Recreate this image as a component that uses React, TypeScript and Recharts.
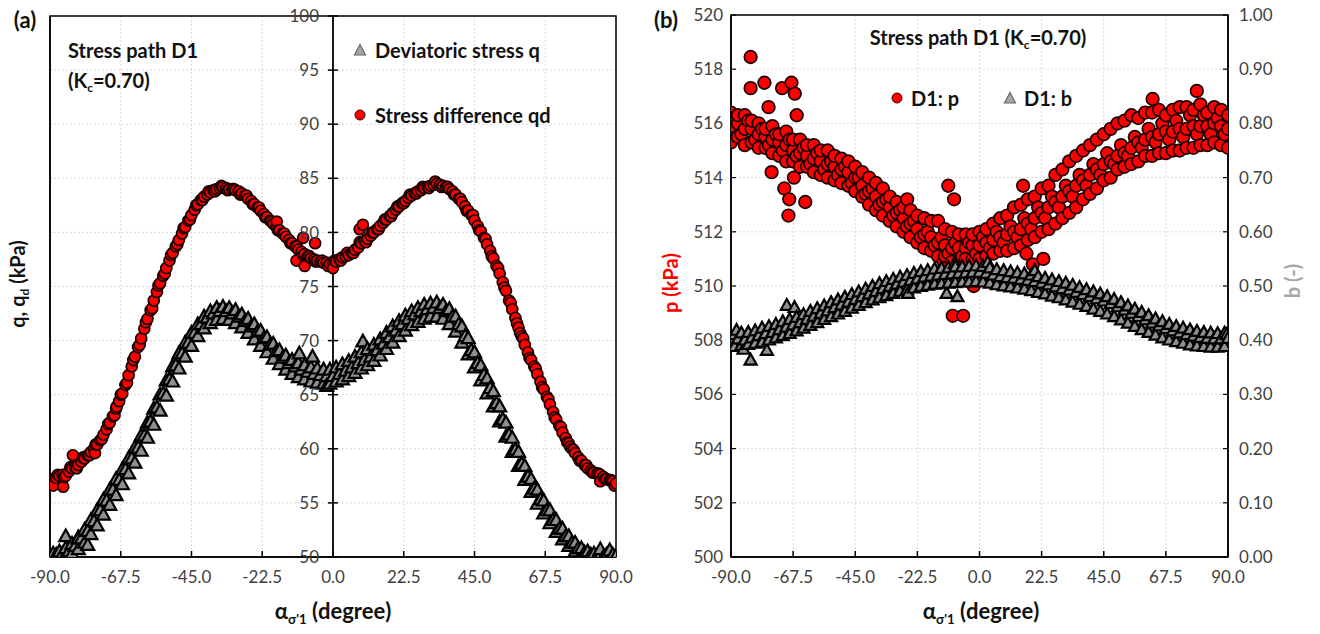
import React from 'react'
import { ScatterChart, Scatter, XAxis, YAxis, CartesianGrid, ReferenceLine, ReferenceArea } from 'recharts'

type Pt = [number, number]

const xTicks = [-90, -67.5, -45, -22.5, 0, 22.5, 45, 67.5, 90]
const qTicks = [50, 55, 60, 65, 70, 75, 80, 85, 90, 95, 100]
const pTicks = [500, 502, 504, 506, 508, 510, 512, 514, 516, 518, 520]
const bTicks = [0, 0.1, 0.2, 0.3, 0.4, 0.5, 0.6, 0.7, 0.8, 0.9, 1]

// panel (a): deviatoric stress q (triangles) - band centre, lower edge, upper edge
const qCentre: Pt[] = [[-90,50.2],[-88,50.3],[-86,50.4],[-84,50.6],[-82,51.1],[-80,51.8],[-78,52.5],[-76,53.4],[-74,54.4],[-72,55.3],[-70,56.3],[-68,57.2],[-66,58.2],[-64,59.2],[-62,60.2],[-60,61.3],[-58,62.6],[-56,63.9],[-54,65.2],[-52,66.5],[-50,67.8],[-48,68.9],[-46,69.9],[-44,70.8],[-42,71.6],[-40,72.2],[-38,72.6],[-36,72.8],[-34,72.8],[-32,72.6],[-30,72.3],[-28,71.9],[-26,71.4],[-24,70.9],[-22,70.3],[-20,69.7],[-18,69.1],[-16,68.5],[-14,68.0],[-12,67.7],[-10,67.4],[-8,67.2],[-6,67.0],[-4,66.9],[-2,66.8],[0,66.8],[2,67.0],[4,67.3],[6,67.6],[8,68.0],[10,68.3],[12,68.6],[14,69.2],[16,69.8],[18,70.4],[20,71.0],[22,71.6],[24,72.1],[26,72.5],[28,72.8],[30,73.0],[32,73.1],[34,73.1],[36,72.8],[38,72.3],[40,71.6],[42,70.5],[44,69.2],[46,68.0],[48,66.9],[50,65.7],[52,64.3],[54,62.8],[56,61.4],[58,60.0],[60,58.7],[62,57.5],[64,56.4],[66,55.4],[68,54.4],[70,53.5],[72,52.7],[74,52.0],[76,51.4],[78,50.9],[80,50.5],[82,50.3],[84,50.2],[86,50.1],[88,50.1],[90,50.2]]
const qEdge: Pt[] = [[-89,50.0],[-87,50.1],[-85,50.3],[-83,50.4],[-81,50.8],[-79,51.4],[-77,52.2],[-75,53.0],[-73,54.0],[-71,54.9],[-69,55.8],[-67,56.8],[-65,57.8],[-63,58.8],[-61,59.9],[-59,61.1],[-57,62.3],[-55,63.6],[-53,65.0],[-51,66.3],[-49,67.5],[-47,68.6],[-45,69.6],[-43,70.5],[-41,71.2],[-39,71.7],[-37,72.0],[-35,72.1],[-33,72.0],[-31,71.7],[-29,71.3],[-27,70.8],[-25,70.2],[-23,69.6],[-21,69.0],[-19,68.4],[-17,67.9],[-15,67.4],[-13,67.0],[-11,66.7],[-9,66.5],[-7,66.3],[-5,66.2],[-3,66.1],[-1,66.1],[1,66.3],[3,66.5],[5,66.8],[7,67.1],[9,67.5],[11,67.8],[13,68.2],[15,68.7],[17,69.3],[19,69.9],[21,70.5],[23,71.0],[25,71.5],[27,71.8],[29,72.1],[31,72.3],[33,72.3],[35,72.1],[37,71.6],[39,70.9],[41,69.9],[43,68.8],[45,67.6],[47,66.4],[49,65.2],[51,64.0],[53,62.6],[55,61.2],[57,59.8],[59,58.5],[61,57.2],[63,56.1],[65,55.0],[67,54.1],[69,53.2],[71,52.4],[73,51.7],[75,51.1],[77,50.6],[79,50.3],[81,50.1],[83,50.0],[85,50.0],[87,50.0],[89,50.0]]
const qTop: Pt[] = [[-89,50.4],[-87,50.6],[-85,50.9],[-83,51.3],[-81,51.9],[-79,52.6],[-77,53.5],[-75,54.4],[-73,55.4],[-71,56.3],[-69,57.3],[-67,58.2],[-65,59.2],[-63,60.2],[-61,61.3],[-59,62.5],[-57,63.8],[-55,65.1],[-53,66.4],[-51,67.7],[-49,68.9],[-47,69.9],[-45,70.8],[-43,71.6],[-41,72.3],[-39,72.8],[-37,73.1],[-35,73.2],[-33,73.1],[-31,72.9],[-29,72.5],[-27,72.1],[-25,71.6],[-23,71.0],[-21,70.4],[-19,69.8],[-17,69.2],[-15,68.7],[-13,68.3],[-11,68.0],[-9,67.8],[-7,67.6],[-5,67.5],[-3,67.4],[-1,67.4],[1,67.6],[3,67.9],[5,68.2],[7,68.6],[9,69.0],[11,69.3],[13,69.7],[15,70.2],[17,70.8],[19,71.4],[21,71.9],[23,72.4],[25,72.8],[27,73.1],[29,73.4],[31,73.5],[33,73.6],[35,73.4],[37,73.0],[39,72.3],[41,71.4],[43,70.3],[45,69.0],[47,67.8],[49,66.6],[51,65.4],[53,64.0],[55,62.5],[57,61.1],[59,59.8],[61,58.5],[63,57.3],[65,56.3],[67,55.3],[69,54.4],[71,53.5],[73,52.7],[75,52.0],[77,51.4],[79,50.9],[81,50.6],[83,50.4],[85,50.3],[87,50.3],[89,50.3]]
const qStray: Pt[] = [[-85,52.0],[-81,51.8],[-78,51.2],[-10.7,68.9],[-6.5,68.6],[9.5,70.0],[-2,65.9],[85,50.8],[88,50.7]]

// panel (a): stress difference qd (circles)
const qdEven: Pt[] = [[-90,57.0],[-88,57.3],[-86,57.6],[-84,57.9],[-82,58.3],[-80,58.8],[-78,59.4],[-76,60.0],[-74,60.8],[-72,61.8],[-70,63.0],[-68,64.4],[-66,65.9],[-64,67.6],[-62,69.4],[-60,71.1],[-58,72.8],[-56,74.5],[-54,76.0],[-52,77.4],[-50,78.7],[-48,79.9],[-46,81.1],[-44,82.1],[-42,83.0],[-40,83.5],[-38,83.9],[-36,84.1],[-34,84.1],[-32,84.0],[-30,83.8],[-28,83.4],[-26,82.9],[-24,82.3],[-22,81.7],[-20,81.1],[-18,80.5],[-16,79.9],[-14,79.3],[-12,78.7],[-10,78.2],[-8,77.8],[-6,77.5],[-4,77.3],[-2,77.2],[0,77.2],[2,77.5],[4,77.8],[6,78.1],[8,78.6],[10,79.2],[12,79.7],[14,80.3],[16,80.9],[18,81.5],[20,82.1],[22,82.7],[24,83.2],[26,83.6],[28,83.9],[30,84.2],[32,84.4],[34,84.4],[36,84.2],[38,83.8],[40,83.1],[42,82.4],[44,81.6],[46,80.6],[48,79.5],[50,78.3],[52,76.9],[54,75.4],[56,73.7],[58,72.1],[60,70.4],[62,68.9],[64,67.6],[66,66.2],[68,64.8],[70,63.4],[72,62.1],[74,61.0],[76,60.0],[78,59.2],[80,58.5],[82,58.0],[84,57.7],[86,57.4],[88,57.1],[90,56.8]]
const qdOdd: Pt[] = [[-89,56.6],[-87,57.5],[-85,57.5],[-83,58.2],[-81,58.5],[-79,59.1],[-77,59.7],[-75,60.4],[-73,61.3],[-71,62.4],[-69,63.7],[-67,65.1],[-65,66.8],[-63,68.5],[-61,70.2],[-59,72.0],[-57,73.7],[-55,75.3],[-53,76.7],[-51,78.1],[-49,79.3],[-47,80.5],[-45,81.6],[-43,82.6],[-41,83.3],[-39,83.7],[-37,84.0],[-35,84.2],[-33,84.0],[-31,83.9],[-29,83.6],[-27,83.1],[-25,82.6],[-23,82.0],[-21,81.4],[-19,80.8],[-17,80.2],[-15,79.6],[-13,79.0],[-11,78.4],[-9,78.0],[-7,77.6],[-5,77.4],[-3,77.2],[-1,77.1],[1,77.3],[3,77.7],[5,77.9],[7,78.4],[9,79.0],[11,79.4],[13,80.0],[15,80.6],[17,81.2],[19,81.8],[21,82.4],[23,82.9],[25,83.4],[27,83.8],[29,84.1],[31,84.3],[33,84.5],[35,84.3],[37,84.0],[39,83.5],[41,82.8],[43,82.0],[45,81.1],[47,80.1],[49,78.9],[51,77.6],[53,76.2],[55,74.6],[57,72.9],[59,71.2],[61,69.6],[63,68.2],[65,66.9],[67,65.5],[69,64.1],[71,62.7],[73,61.5],[75,60.5],[77,59.6],[79,58.9],[81,58.2],[83,57.8],[85,57.6],[87,57.2],[89,57.0]]
const qdHalf: Pt[] = [[-89.5,57.2],[-87.5,57.6],[-85.5,57.4],[-83.5,58.3],[-81.5,58.2],[-79.5,59.2],[-77.5,59.4],[-75.5,60.4],[-73.5,60.9],[-71.5,62.3],[-69.5,63.1],[-67.5,65.0],[-65.5,66.1],[-63.5,68.2],[-61.5,69.6],[-59.5,71.7],[-57.5,73.0],[-55.5,75.1],[-53.5,76.2],[-51.5,77.9],[-49.5,78.9],[-47.5,80.4],[-45.5,81.2],[-43.5,82.5],[-41.5,83.0],[-39.5,83.8],[-37.5,83.8],[-35.5,84.3],[-33.5,83.9],[-31.5,84.0],[-29.5,83.5],[-27.5,83.4],[-25.5,82.6],[-23.5,82.3],[-21.5,81.4],[-19.5,81.0],[-17.5,80.2],[-15.5,79.9],[-13.5,79.0],[-11.5,78.7],[-9.5,77.9],[-7.5,77.8],[-5.5,77.3],[-3.5,77.4],[-1.5,76.9],[0.5,77.4],[2.5,77.4],[4.5,78.1],[6.5,78.1],[8.5,79.1],[10.5,79.1],[12.5,80.0],[14.5,80.3],[16.5,81.2],[18.5,81.5],[20.5,82.4],[22.5,82.7],[24.5,83.5],[26.5,83.6],[28.5,84.2],[30.5,84.1],[32.5,84.7],[34.5,84.2],[36.5,84.2],[38.5,83.5],[40.5,83.1],[42.5,82.0],[44.5,81.6],[46.5,80.2],[48.5,79.4],[50.5,77.8],[52.5,76.7],[54.5,74.9],[56.5,73.5],[58.5,71.6],[60.5,70.2],[62.5,68.4],[64.5,67.4],[66.5,65.7],[68.5,64.6],[70.5,62.9],[72.5,62.0],[74.5,60.6],[76.5,59.9],[78.5,58.9],[80.5,58.5],[82.5,57.8],[84.5,57.7],[86.5,57.2],[88.5,57.1]]
const qdStray: Pt[] = [[-85.8,56.5],[-82.7,59.4],[-75.7,59.6],[-68.8,63.9],[-17.9,81.0],[-9.5,79.5],[-5.7,79.0],[-11.6,77.4],[-9,76.9],[0,76.7],[9.5,80.7],[8.5,80.3],[59.5,70.7],[75.4,60.2],[89.5,56.6],[85,57.0]]

// panel (b): mean stress p (circles)
const pMain: Pt[] = [[-90,515.9],[-87.5,516.0],[-85,515.8],[-82.5,515.8],[-80,515.6],[-77.5,515.5],[-75,515.4],[-72.5,515.3],[-70,515.2],[-67.5,515.0],[-65,514.9],[-62.5,514.8],[-60,514.7],[-57.5,514.6],[-55,514.5],[-52.5,514.4],[-50,514.3],[-47.5,514.2],[-45,514.0],[-42.5,513.7],[-40,513.5],[-37.5,513.3],[-35,513.1],[-32.5,512.9],[-30,512.7],[-27.5,512.5],[-25,512.3],[-22.5,512.1],[-20,511.9],[-17.5,511.8],[-15,511.6],[-12.5,511.5],[-10,511.4],[-7.5,511.4],[-5,511.4],[-2.5,511.5],[0,511.5],[2.5,511.6],[5,511.7],[7.5,511.8],[10,511.9],[12.5,512.0],[15,512.1],[17.5,512.3],[20,512.5],[22.5,512.7],[25,512.9],[27.5,513.1],[30,513.3],[32.5,513.5],[35,513.7],[37.5,513.9],[40,514.1],[42.5,514.3],[45,514.5],[47.5,514.6],[50,514.8],[52.5,514.9],[55,515.1],[57.5,515.3],[60,515.4],[62.5,515.5],[65,515.6],[67.5,515.7],[70,515.7],[72.5,515.8],[75,515.8],[77.5,515.9],[80,515.9],[82.5,515.9],[85,516.0],[87.5,515.9],[90,515.8]]
const pMid: Pt[] = [[-88.75,516.2],[-86.25,515.6],[-83.75,516.1],[-81.25,515.4],[-78.75,515.8],[-76.25,515.2],[-73.75,515.6],[-71.25,515.0],[-68.75,515.4],[-66.25,514.8],[-63.75,515.1],[-61.25,514.5],[-58.75,514.9],[-56.25,514.3],[-53.75,514.6],[-51.25,514.1],[-48.75,514.4],[-46.25,513.8],[-43.75,514.0],[-41.25,513.4],[-38.75,513.6],[-36.25,513.0],[-33.75,513.2],[-31.25,512.6],[-28.75,512.8],[-26.25,512.2],[-23.75,512.4],[-21.25,511.8],[-18.75,512.0],[-16.25,511.5],[-13.75,511.8],[-11.25,511.2],[-8.75,511.6],[-6.25,511.1],[-3.75,511.6],[-1.25,511.2],[1.25,511.8],[3.75,511.4],[6.25,512.0],[8.75,511.6],[11.25,512.2],[13.75,511.8],[16.25,512.5],[18.75,512.1],[21.25,512.9],[23.75,512.5],[26.25,513.3],[28.75,512.9],[31.25,513.7],[33.75,513.3],[36.25,514.1],[38.75,513.7],[41.25,514.5],[43.75,514.1],[46.25,514.9],[48.75,514.5],[51.25,515.2],[53.75,514.8],[56.25,515.5],[58.75,515.1],[61.25,515.8],[63.75,515.3],[66.25,516.0],[68.75,515.4],[71.25,516.1],[73.75,515.5],[76.25,516.3],[78.75,515.6],[81.25,516.3],[83.75,515.6],[86.25,516.2],[88.75,515.6]]
const pUpper: Pt[] = [[-90,516.4],[-85,516.3],[-80,516.0],[-75,515.9],[-70,515.7],[-65,515.4],[-60,515.2],[-55,515.0],[-50,514.7],[-45,514.4],[-40,514.0],[-35,513.6],[-30,513.1],[-25,512.8],[-20,512.5],[-15,512.4],[-10,512.0],[-5,511.9],[0,512.0],[5,512.3],[10,512.6],[15,513.0],[20,513.3],[25,513.7],[30,514.3],[35,514.8],[40,515.2],[45,515.6],[50,516.0],[55,516.3],[60,516.4],[65,516.5],[70,516.5],[75,516.6],[80,516.7],[85,516.6],[90,516.3]]
const pUpper2: Pt[] = [[-87.5,516.3],[-82.5,516.1],[-77.5,515.8],[-72.5,515.6],[-67.5,515.4],[-62.5,515.2],[-57.5,515.0],[-52.5,514.8],[-47.5,514.6],[-42.5,514.2],[-37.5,513.8],[-32.5,513.3],[-27.5,512.9],[-22.5,512.6],[-17.5,512.4],[-12.5,512.1],[-7.5,511.9],[-2.5,511.9],[2.5,512.1],[7.5,512.5],[12.5,512.9],[17.5,513.2],[22.5,513.6],[27.5,514.1],[32.5,514.6],[37.5,515.0],[42.5,515.4],[47.5,515.8],[52.5,516.1],[57.5,516.2],[62.5,516.4],[67.5,516.3],[72.5,516.6],[77.5,516.5],[82.5,516.4],[87.5,516.5]]
const pLower: Pt[] = [[-90,515.3],[-85,515.2],[-80,515.1],[-75,514.9],[-70,514.6],[-65,514.4],[-60,514.2],[-55,514.0],[-50,513.8],[-45,513.5],[-40,513.0],[-35,512.6],[-30,512.2],[-25,511.8],[-20,511.4],[-15,511.1],[-10,510.9],[-5,511.0],[0,511.0],[5,511.2],[10,511.3],[15,511.5],[20,511.8],[25,512.1],[30,512.5],[35,512.9],[40,513.4],[45,513.9],[50,514.3],[55,514.5],[60,514.8],[65,514.9],[70,515.0],[75,515.1],[80,515.2],[85,515.3],[90,515.1]]
const pLower2: Pt[] = [[-87.5,515.5],[-82.5,515.3],[-77.5,515.1],[-72.5,514.8],[-67.5,514.6],[-62.5,514.4],[-57.5,514.1],[-52.5,513.9],[-47.5,513.7],[-42.5,513.3],[-37.5,512.8],[-32.5,512.4],[-27.5,512.0],[-22.5,511.6],[-17.5,511.3],[-12.5,511.1],[-7.5,510.9],[-2.5,511.0],[2.5,511.1],[7.5,511.3],[12.5,511.4],[17.5,511.7],[22.5,512.0],[27.5,512.3],[32.5,512.7],[37.5,513.2],[42.5,513.6],[47.5,514.0],[52.5,514.4],[57.5,514.6],[62.5,514.8],[67.5,514.9],[72.5,515.0],[77.5,515.1],[82.5,515.2],[87.5,515.2]]
const pStray: Pt[] = [[-82.9,518.45],[-82.9,517.3],[-77.9,517.5],[-76.4,516.6],[-71.5,517.3],[-68.1,517.5],[-66.9,517.1],[-66.2,516.3],[-75.3,514.2],[-70.7,513.6],[-68.9,513.2],[-63.1,513.1],[-69.2,512.6],[-67.2,514.0],[-11.3,513.7],[-9.2,513.2],[-26.2,513.2],[15.8,513.7],[19.3,510.8],[23.1,511.0],[-2.1,510.0],[-9.7,508.9],[-5.9,508.9],[17,511.2],[-13,510.9],[78.7,517.2],[62.7,516.9]]

// panel (b): intermediate stress ratio b (triangles)
const bMain: Pt[] = [[-90,0.400],[-87.5,0.404],[-85,0.402],[-82.5,0.406],[-80,0.410],[-77.5,0.414],[-75,0.416],[-72.5,0.421],[-70,0.426],[-67.5,0.430],[-65,0.434],[-62.5,0.440],[-60,0.446],[-57.5,0.451],[-55,0.456],[-52.5,0.462],[-50,0.467],[-47.5,0.472],[-45,0.477],[-42.5,0.482],[-40,0.487],[-37.5,0.492],[-35,0.497],[-32.5,0.501],[-30,0.505],[-27.5,0.509],[-25,0.512],[-22.5,0.515],[-20,0.518],[-17.5,0.520],[-15,0.522],[-12.5,0.523],[-10,0.524],[-7.5,0.525],[-5,0.526],[-2.5,0.527],[0,0.527],[2.5,0.525],[5,0.522],[7.5,0.519],[10,0.517],[12.5,0.516],[15,0.514],[17.5,0.512],[20,0.510],[22.5,0.507],[25,0.504],[27.5,0.500],[30,0.497],[32.5,0.494],[35,0.490],[37.5,0.486],[40,0.482],[42.5,0.478],[45,0.474],[47.5,0.469],[50,0.463],[52.5,0.457],[55,0.451],[57.5,0.445],[60,0.439],[62.5,0.433],[65,0.428],[67.5,0.423],[70,0.419],[72.5,0.415],[75,0.412],[77.5,0.409],[80,0.407],[82.5,0.405],[85,0.404],[87.5,0.404],[90,0.405]]
const bLow: Pt[] = [[-88.75,0.390],[-86.25,0.392],[-83.75,0.394],[-81.25,0.396],[-78.75,0.398],[-76.25,0.402],[-73.75,0.406],[-71.25,0.410],[-68.75,0.414],[-66.25,0.419],[-63.75,0.424],[-61.25,0.429],[-58.75,0.434],[-56.25,0.440],[-53.75,0.445],[-51.25,0.450],[-48.75,0.455],[-46.25,0.461],[-43.75,0.466],[-41.25,0.471],[-38.75,0.476],[-36.25,0.480],[-33.75,0.484],[-31.25,0.488],[-28.75,0.492],[-26.25,0.495],[-23.75,0.498],[-21.25,0.501],[-18.75,0.503],[-16.25,0.505],[-13.75,0.506],[-11.25,0.507],[-8.75,0.508],[-6.25,0.509],[-3.75,0.509],[-1.25,0.510],[1.25,0.509],[3.75,0.507],[6.25,0.504],[8.75,0.502],[11.25,0.500],[13.75,0.498],[16.25,0.496],[18.75,0.493],[21.25,0.490],[23.75,0.487],[26.25,0.483],[28.75,0.480],[31.25,0.476],[33.75,0.472],[36.25,0.468],[38.75,0.464],[41.25,0.459],[43.75,0.455],[46.25,0.450],[48.75,0.445],[51.25,0.439],[53.75,0.433],[56.25,0.427],[58.75,0.421],[61.25,0.416],[63.75,0.411],[66.25,0.406],[68.75,0.402],[71.25,0.399],[73.75,0.396],[76.25,0.393],[78.75,0.391],[81.25,0.390],[83.75,0.389],[86.25,0.389],[88.75,0.390]]
const bHigh: Pt[] = [[-88.75,0.412],[-86.25,0.415],[-83.75,0.416],[-81.25,0.419],[-78.75,0.424],[-76.25,0.427],[-73.75,0.431],[-71.25,0.436],[-68.75,0.440],[-66.25,0.444],[-63.75,0.449],[-61.25,0.455],[-58.75,0.460],[-56.25,0.465],[-53.75,0.471],[-51.25,0.476],[-48.75,0.481],[-46.25,0.486],[-43.75,0.491],[-41.25,0.496],[-38.75,0.501],[-36.25,0.506],[-33.75,0.510],[-31.25,0.514],[-28.75,0.518],[-26.25,0.521],[-23.75,0.525],[-21.25,0.528],[-18.75,0.530],[-16.25,0.533],[-13.75,0.534],[-11.25,0.535],[-8.75,0.537],[-6.25,0.537],[-3.75,0.538],[-1.25,0.539],[1.25,0.538],[3.75,0.535],[6.25,0.532],[8.75,0.530],[11.25,0.528],[13.75,0.526],[16.25,0.524],[18.75,0.522],[21.25,0.519],[23.75,0.516],[26.25,0.513],[28.75,0.510],[31.25,0.507],[33.75,0.503],[36.25,0.499],[38.75,0.495],[41.25,0.491],[43.75,0.487],[46.25,0.482],[48.75,0.477],[51.25,0.471],[53.75,0.465],[56.25,0.459],[58.75,0.453],[61.25,0.447],[63.75,0.441],[66.25,0.436],[68.75,0.431],[71.25,0.427],[73.75,0.424],[76.25,0.421],[78.75,0.418],[81.25,0.416],[83.75,0.415],[86.25,0.414],[88.75,0.415]]
const bStray: Pt[] = [[-82.9,0.365],[-85.5,0.385],[-77,0.383],[-69.8,0.466],[-67,0.462],[-88,0.42],[-9,0.543],[-11.9,0.488],[-8,0.482],[-25.9,0.488],[3,0.545],[20,0.53],[89.5,0.412]]

// merge lists and draw them left to right, as the logger recorded them
const rows = (...lists: Pt[][]) =>
  lists
    .flat()
    .map(([x, y]) => ({ x, y }))
    .sort((a, b) => a.x - b.x)

const FONT = "Lato, 'Open Sans', sans-serif"
const TICK_COLOR = '#404040'
const A_MID = 333 // x pixel of alpha = 0 in panel (a)

const redDot = (r: number) => (props: any) => (
  <circle cx={props.cx} cy={props.cy} r={r} fill="#ff0000" stroke="#1a0000" strokeWidth={1.7} />
)

const grayTri = (w: number) => (props: any) => {
  const { cx, cy } = props
  const h = w * 0.9
  return (
    <polygon
      points={`${cx},${cy - h / 2} ${cx - w / 2},${cy + h / 2} ${cx + w / 2},${cy + h / 2}`}
      fill="#8f8f8f"
      stroke="#000"
      strokeWidth={2.2}
    />
  )
}

// y ticks of panel (a) sit on the vertical axis at alpha = 0
const CentreTick = (props: any) => {
  const { y, payload } = props
  return (
    <g>
      <line x1={A_MID - 5} x2={A_MID + 5} y1={y} y2={y} stroke="#000" strokeWidth={1.5} />
      <text x={A_MID - 14} y={y} dy="0.36em" textAnchor="end" fill={TICK_COLOR} fontSize={17} fontFamily={FONT}>
        {payload.value}
      </text>
    </g>
  )
}

const tickStyle = { fill: TICK_COLOR, fontSize: 17, fontFamily: FONT }

function Txt({ x, y, size = 20, color = '#111', rotate = false, center = true, children }: any) {
  return (
    <div
      style={{
        position: 'absolute',
        left: x,
        top: y,
        transform: `translate(${center ? '-50%' : '0'}, -50%)${rotate ? ' rotate(-90deg)' : ''}`,
        transformOrigin: center ? 'center' : 'left center',
        fontFamily: FONT,
        fontWeight: 700,
        fontSize: size,
        color,
        whiteSpace: 'nowrap',
        lineHeight: 1,
      }}
    >
      {children}
    </div>
  )
}

const sub = { fontSize: '0.6em', verticalAlign: '-0.35em' }

function TriIcon({ x, y, fill = '#a6a6a6' }: any) {
  return (
    <svg style={{ position: 'absolute', left: x - 7, top: y - 7 }} width={14} height={14}>
      <polygon points="7,1.5 1.5,12 12.5,12" fill={fill} stroke="#666" strokeWidth={1.2} />
    </svg>
  )
}

function DotIcon({ x, y }: any) {
  return (
    <svg style={{ position: 'absolute', left: x - 7, top: y - 7 }} width={14} height={14}>
      <circle cx={7} cy={7} r={5} fill="#ff0000" stroke="#400" strokeWidth={1} />
    </svg>
  )
}

const alphaLabel = (
  <>
    α<span style={sub}>σ'1</span> (degree)
  </>
)

export default function App() {
  return (
    <div style={{ position: 'absolute', left: 0, top: 0, width: 1320, height: 634, background: '#fff', overflow: 'hidden' }}>
      <div style={{ position: 'absolute', left: 0, top: 0 }}>
        <ScatterChart width={640} height={634} margin={{ top: 16, right: 24, bottom: 46, left: 0 }}>
          <CartesianGrid stroke="#d9d9d9" strokeDasharray="2 2" />
          <XAxis
            type="number"
            dataKey="x"
            domain={[-90, 90]}
            ticks={xTicks}
            tickFormatter={(v: number) => v.toFixed(1)}
            height={31}
            tickSize={-6}
            tickMargin={20}
            axisLine={{ stroke: '#000', strokeWidth: 1.5 }}
            tickLine={{ stroke: '#000', strokeWidth: 1.5 }}
            tick={tickStyle}
            allowDataOverflow
          />
          <YAxis
            type="number"
            dataKey="y"
            domain={[50, 100]}
            ticks={qTicks}
            width={50}
            axisLine={{ stroke: '#000', strokeWidth: 1.5 }}
            tickLine={false}
            tick={<CentreTick />}
            allowDataOverflow
          />
          <ReferenceLine x={0} stroke="#000" strokeWidth={1.8} />
          <ReferenceArea x1={-90} x2={90} y1={50} y2={100} fill="none" stroke="#000" strokeWidth={1.5} />
          <Scatter data={rows(qCentre, qEdge, qTop, qStray)} shape={grayTri(13)} isAnimationActive={false} />
          <Scatter data={rows(qdEven, qdOdd, qdHalf, qdStray)} shape={redDot(5.5)} isAnimationActive={false} />
        </ScatterChart>
      </div>

      <div style={{ position: 'absolute', left: 640, top: 0 }}>
        <ScatterChart width={680} height={634} margin={{ top: 15, right: 0, bottom: 46, left: 0 }}>
          <CartesianGrid yAxisId="p" stroke="#d9d9d9" strokeDasharray="2 2" />
          <XAxis
            type="number"
            dataKey="x"
            domain={[-90, 90]}
            ticks={xTicks}
            tickFormatter={(v: number) => v.toFixed(1)}
            height={31}
            tickSize={-6}
            tickMargin={20}
            axisLine={{ stroke: '#000', strokeWidth: 1.5 }}
            tickLine={{ stroke: '#000', strokeWidth: 1.5 }}
            tick={tickStyle}
            allowDataOverflow
          />
          <YAxis
            yAxisId="p"
            type="number"
            dataKey="y"
            domain={[500, 520]}
            ticks={pTicks}
            width={91}
            tickSize={-5}
            tickMargin={13}
            axisLine={{ stroke: '#000', strokeWidth: 1.5 }}
            tickLine={{ stroke: '#000', strokeWidth: 1.2 }}
            tick={tickStyle}
            allowDataOverflow
          />
          <YAxis
            yAxisId="b"
            orientation="right"
            type="number"
            dataKey="y"
            domain={[0, 1]}
            ticks={bTicks}
            tickFormatter={(v: number) => v.toFixed(2)}
            width={92}
            tickSize={-5}
            tickMargin={16}
            axisLine={{ stroke: '#000', strokeWidth: 1.5 }}
            tickLine={{ stroke: '#000', strokeWidth: 1.2 }}
            tick={tickStyle}
            allowDataOverflow
          />
          <ReferenceArea yAxisId="p" x1={-90} x2={90} y1={500} y2={520} fill="none" stroke="#000" strokeWidth={1.5} />
          <Scatter
            yAxisId="p"
            data={rows(pMain, pMid, pUpper, pUpper2, pLower, pLower2, pStray)}
            shape={redDot(6.3)}
            isAnimationActive={false}
          />
          <Scatter yAxisId="b" data={rows(bMain, bLow, bHigh, bStray)} shape={grayTri(12)} isAnimationActive={false} />
        </ScatterChart>
      </div>

      <Txt x={25} y={20} size={22}>(a)</Txt>
      <Txt x={666} y={20} size={22}>(b)</Txt>

      <Txt x={68} y={50} center={false}>Stress path D1</Txt>
      <Txt x={68} y={82} center={false}>
        (K<span style={sub}>c</span>=0.70)
      </Txt>
      <TriIcon x={360} y={50} />
      <Txt x={375} y={50} center={false}>Deviatoric stress q</Txt>
      <DotIcon x={360} y={115} />
      <Txt x={375} y={115} center={false}>Stress difference qd</Txt>

      <Txt x={19} y={284} rotate>
        q, q<span style={sub}>d</span> (kPa)
      </Txt>
      <Txt x={333} y={613} size={22}>{alphaLabel}</Txt>

      <Txt x={978} y={39}>
        Stress path D1 (K<span style={sub}>c</span>=0.70)
      </Txt>
      <DotIcon x={897} y={98} />
      <Txt x={911} y={98} center={false}>D1: p</Txt>
      <TriIcon x={1010} y={98} />
      <Txt x={1024} y={98} center={false}>D1: b</Txt>

      <Txt x={670} y={283} rotate color="#ff0000">p (kPa)</Txt>
      <Txt x={1292} y={281} rotate color="#a6a6a6">b (-)</Txt>
      <Txt x={981} y={613} size={22}>{alphaLabel}</Txt>
    </div>
  )
}
